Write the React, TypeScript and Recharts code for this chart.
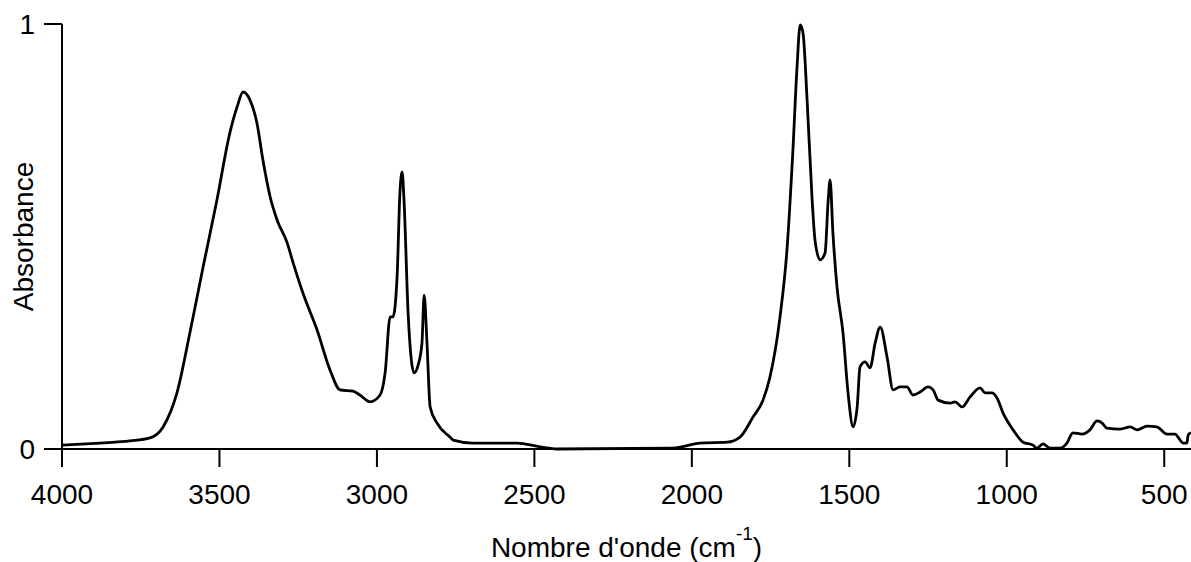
import React from 'react';
import { LineChart, Line, XAxis, YAxis } from 'recharts';

// IR spectrum: wavenumber (cm-1) and absorbance
const wavenumbers = [
  4000, 3879, 3784, 3721, 3679, 3635, 3594, 3552, 3508, 3467, 3444, 3425, 3403, 3381, 3362,
  3339, 3317, 3285, 3266, 3235, 3190, 3149, 3117, 3076, 3054, 3022, 2990, 2974, 2958, 2949,
  2936, 2927, 2920, 2914, 2901, 2882, 2869, 2857, 2850, 2841, 2831, 2809, 2768, 2758, 2695,
  2555, 2482, 2428, 2060, 1974, 1888, 1847, 1806, 1774, 1752, 1720, 1698, 1679, 1666, 1656,
  1647, 1634, 1618, 1609, 1593, 1577, 1567, 1561, 1552, 1539, 1520, 1504, 1488, 1475, 1466,
  1450, 1434, 1418, 1402, 1380, 1361, 1339, 1317, 1298, 1275, 1250, 1234, 1218, 1180, 1164,
  1142, 1117, 1085, 1069, 1047, 1031, 1012, 980, 948, 917, 904, 885, 863, 831, 809,
  790, 761, 736, 713, 697, 682, 640, 608, 586, 555, 523, 491, 466, 440, 428,
  424, 415,
];
const absorbance = [
  0.009, 0.014, 0.019, 0.026, 0.052, 0.132, 0.273, 0.428, 0.586, 0.744, 0.805, 0.84, 0.821, 0.767, 0.68,
  0.593, 0.539, 0.485, 0.438, 0.367, 0.28, 0.186, 0.139, 0.136, 0.127, 0.111, 0.127, 0.179, 0.311, 0.311,
  0.405, 0.602, 0.652, 0.586, 0.32, 0.179, 0.198, 0.249, 0.362, 0.249, 0.099, 0.061, 0.028, 0.021, 0.014,
  0.014, 0.005, 0.0, 0.002, 0.014, 0.016, 0.028, 0.075, 0.115, 0.169, 0.311, 0.468, 0.704, 0.899, 0.998,
  0.979, 0.821, 0.586, 0.492, 0.445, 0.461, 0.586, 0.633, 0.508, 0.381, 0.273, 0.132, 0.052, 0.099, 0.193,
  0.205, 0.191, 0.249, 0.287, 0.216, 0.139, 0.146, 0.146, 0.127, 0.134, 0.146, 0.139, 0.115, 0.108, 0.111,
  0.099, 0.122, 0.144, 0.132, 0.132, 0.12, 0.085, 0.045, 0.016, 0.009, 0.002, 0.012, 0.002, 0.002, 0.014,
  0.038, 0.035, 0.045, 0.066, 0.061, 0.049, 0.047, 0.052, 0.045, 0.054, 0.052, 0.035, 0.035, 0.014, 0.014,
  0.033, 0.038,
];
const xTicks = [4000, 3500, 3000, 2500, 2000, 1500, 1000, 500];
const yTicks = [0, 1];

const FONT = '"Liberation Sans", Arial, sans-serif';

const data = wavenumbers.map((wn, i) => ({ wn, a: absorbance[i] }));

const XTitle = ({ viewBox }: any) => {
  const cx = viewBox.x + viewBox.width / 2;
  const y = viewBox.y + 108;
  return (
    <text x={cx} y={y} textAnchor="middle" fontFamily={FONT} fontSize={28} fill="#000">
      Nombre d'onde (cm
      <tspan dy={-17} fontSize={19}>-1</tspan>
      <tspan dy={17}>)</tspan>
    </text>
  );
};

const YTitle = ({ viewBox }: any) => {
  const cy = viewBox.y + viewBox.height / 2;
  return (
    <text
      x={33}
      y={cy}
      transform={`rotate(-90, 33, ${cy})`}
      textAnchor="middle"
      fontFamily={FONT}
      fontSize={28}
      fill="#000"
    >
      Absorbance
    </text>
  );
};

export default function App() {
  return (
    <div style={{ position: 'absolute', left: 0, top: 0, width: 1191, height: 562, background: '#fff' }}>
      <LineChart width={1191} height={562} data={data} margin={{ top: 24, right: 0, bottom: 0, left: 0 }}>
        <XAxis
          type="number"
          dataKey="wn"
          domain={[415, 4000]}
          reversed
          allowDataOverflow
          ticks={xTicks}
          interval={0}
          height={113}
          tickSize={18}
          tickMargin={17}
          axisLine={{ stroke: '#000', strokeWidth: 2 }}
          tickLine={{ stroke: '#000', strokeWidth: 2 }}
          tick={{ fill: '#000', fontSize: 28, fontFamily: FONT }}
          label={<XTitle />}
        />
        <YAxis
          type="number"
          domain={[0, 1]}
          ticks={yTicks}
          width={62}
          tickSize={18}
          tickMargin={9}
          axisLine={{ stroke: '#000', strokeWidth: 2 }}
          tickLine={{ stroke: '#000', strokeWidth: 2 }}
          tick={{ fill: '#000', fontSize: 28, fontFamily: FONT }}
          label={<YTitle />}
        />
        <Line
          type="monotone"
          dataKey="a"
          stroke="#000"
          strokeWidth={2.8}
          dot={false}
          isAnimationActive={false}
        />
      </LineChart>
    </div>
  );
}
